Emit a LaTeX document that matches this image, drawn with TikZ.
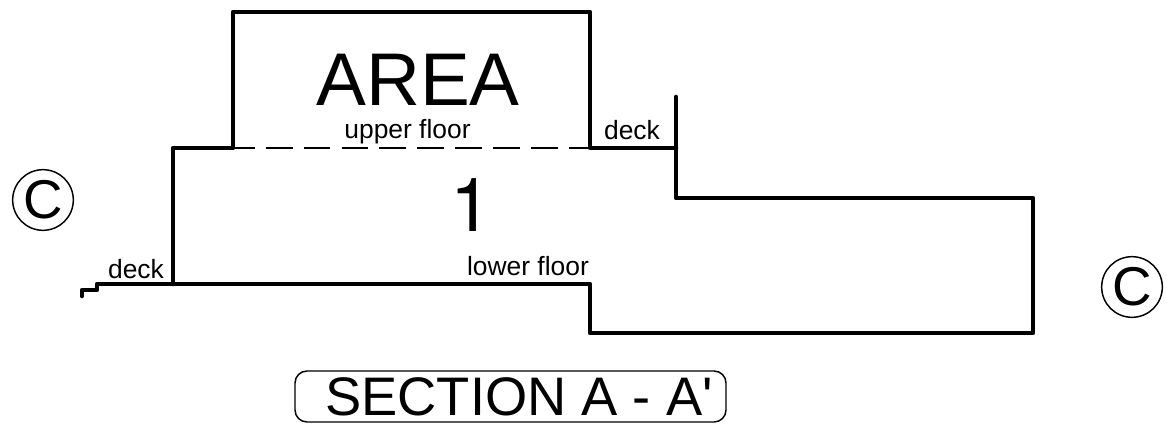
\documentclass[tikz,border=0pt]{standalone}
\usepackage{fontspec}
\newfontfamily\labelfont{Liberation Sans}
\newfontfamily\digitfont{TeX Gyre Heros}
\tikzset{
  wall/.style={line width=3.4pt,line cap=round,line join=round},
  thinline/.style={line width=1.1pt},
  dashline/.style={line width=1.5pt,dash pattern=on 20pt off 8.4pt},
  lbl/.style={inner sep=0pt,anchor=base,font=\labelfont},
  bubble/.style={circle,draw,line width=1.1pt,minimum size=45.5pt,inner sep=0pt,font=\labelfont}
}
\newcommand{\fs}[1]{\fontsize{#1}{#1}\selectfont}
\begin{document}
\begin{tikzpicture}[x=0.75pt,y=-0.75pt]
\useasboundingbox (0,0) rectangle (1167,431);
\draw[wall] (82,296) -- (82,290) -- (97,290) -- (97,284) -- (590,284) -- (590,333) -- (1033,333) -- (1033,198) -- (676,198) -- (676,97);
\draw[wall] (173,284) -- (173,148) -- (233,148) -- (233,12) -- (590,12) -- (590,148) -- (676,148);
\draw[dashline] (228,148) -- (590,148);
\node[lbl] (area) at (418,106) {\fs{56}AREA};
\node[lbl] (one) at (471,231) {\digitfont\fs{56}1};
\node[lbl] (upper) at (407.5,139) {\fs{19.8}upper floor};
\node[lbl] (deck1) at (632,140) {\fs{19.8}deck};
\node[lbl] (deck2) at (136,278) {\fs{19.8}deck};
\node[lbl] (lower) at (528,275) {\fs{19.8}lower floor};
\node[bubble] (c1) at (43,200) {\fs{41}C};
\node[bubble] (c2) at (1132,287) {\fs{41}C};
\draw[thinline,rounded corners=9pt] (295,371) rectangle (726,422);
\node[lbl] (sec) at (519,415) {\fs{40.7}SECTION A - A'};
\end{tikzpicture}
\end{document}
